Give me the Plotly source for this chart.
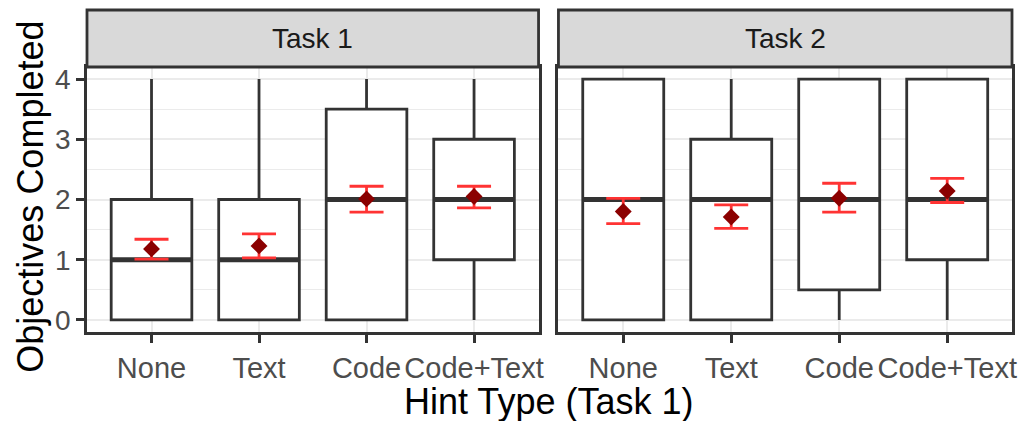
import plotly.graph_objects as go

hints = ["None", "Text", "Code", "Code+Text"]
tasks = ["Task 1", "Task 2"]

# box stats per task: min, q1, median, q3, max
t1_min = [0, 0, 0, 0]
t1_q1 = [0, 0, 0, 1]
t1_med = [1, 1, 2, 2]
t1_q3 = [2, 2, 3.5, 3]
t1_max = [4, 4, 4, 4]

t2_min = [0, 0, 0, 0]
t2_q1 = [0, 0, 0.5, 1]
t2_med = [2, 2, 2, 2]
t2_q3 = [4, 3, 4, 4]
t2_max = [4, 4, 4, 4]

# means with standard error bars
t1_mean = [1.18, 1.23, 2.01, 2.05]
t1_lo = [1.01, 1.03, 1.79, 1.86]
t1_hi = [1.34, 1.43, 2.22, 2.22]

t2_mean = [1.80, 1.71, 2.02, 2.14]
t2_lo = [1.60, 1.52, 1.79, 1.95]
t2_hi = [2.02, 1.91, 2.27, 2.35]

dark = "#333333"
grid = "#EBEBEB"
font = "Liberation Sans"

fig = go.Figure()

panels = [
    (t1_min, t1_q1, t1_med, t1_q3, t1_max, t1_mean, t1_lo, t1_hi),
    (t2_min, t2_q1, t2_med, t2_q3, t2_max, t2_mean, t2_lo, t2_hi),
]

for i, (mn, q1, med, q3, mx, mean, lo, hi) in enumerate(panels):
    xa = "x" if i == 0 else "x2"
    ya = "y" if i == 0 else "y2"
    fig.add_trace(go.Box(
        x=hints, q1=q1, median=med, q3=q3, lowerfence=mn, upperfence=mx,
        width=0.75, whiskerwidth=0, boxpoints=False,
        fillcolor="white", line=dict(color=dark, width=2.8),
        xaxis=xa, yaxis=ya, showlegend=False, hoverinfo="skip",
    ))
    # thicker median line like ggplot (line-ew length is 1.4 * size)
    fig.add_trace(go.Scatter(
        x=hints, y=med, mode="markers",
        marker=dict(symbol="line-ew", size=58, line=dict(color=dark, width=5)),
        xaxis=xa, yaxis=ya, showlegend=False, hoverinfo="skip",
    ))
    fig.add_trace(go.Scatter(
        x=hints, y=mean, mode="markers",
        marker=dict(symbol="diamond", size=13, color="#8B0000"),
        error_y=dict(type="data", symmetric=False,
                     array=[h - m for h, m in zip(hi, mean)],
                     arrayminus=[m - l for m, l in zip(mean, lo)],
                     color="#FF3333", thickness=2.8, width=17),
        xaxis=xa, yaxis=ya, showlegend=False,
    ))

d1 = [0, 454 / 930]
d2 = [474 / 930, 1]

xcommon = dict(
    type="category", categoryorder="array", categoryarray=hints,
    range=[-0.6, 3.6], showgrid=True, gridcolor=grid, gridwidth=2,
    showline=True, linecolor=dark, linewidth=2.8, mirror=True,
    ticks="outside", ticklen=8, tickwidth=3, tickcolor=dark,
    tickfont=dict(family=font, size=29, color="#4D4D4D"), zeroline=False,
)
ycommon = dict(
    range=[-0.2, 4.2], tickvals=[0, 1, 2, 3, 4], showgrid=True,
    gridcolor=grid, gridwidth=2,
    minor=dict(tickvals=[0.5, 1.5, 2.5, 3.5], showgrid=True, gridcolor=grid, gridwidth=1),
    showline=True, linecolor=dark, linewidth=2.8, mirror=True, zeroline=False,
)

fig.update_layout(
    width=1025, height=421,
    margin=dict(l=87, r=8, t=67, b=89),
    plot_bgcolor="white", paper_bgcolor="white",
    xaxis=dict(domain=d1, **xcommon),
    xaxis2=dict(domain=d2, **xcommon),
    yaxis=dict(ticks="outside", ticklen=8, tickwidth=3, tickcolor=dark,
               tickfont=dict(family=font, size=28, color="#4D4D4D"), **ycommon),
    yaxis2=dict(anchor="x2", matches="y", showticklabels=False, ticks="", **ycommon),
)

# facet strips
strip_h = 57 / 265
for i, name in enumerate(tasks):
    xr = "x domain" if i == 0 else "x2 domain"
    fig.add_shape(type="rect", xref=xr, yref="paper", x0=0, x1=1, y0=1, y1=1 + strip_h,
                  fillcolor="#D9D9D9", line=dict(color=dark, width=2.8))
    fig.add_annotation(text=name, xref=xr, yref="paper", x=0.5, y=1 + strip_h / 2,
                       xanchor="center", yanchor="middle", showarrow=False,
                       font=dict(family=font, size=28, color="#1A1A1A"))

fig.add_annotation(text="Hint Type (Task 1)", xref="paper", yref="paper",
                   x=0.499, y=-0.262, xanchor="center", yanchor="middle", showarrow=False,
                   font=dict(family=font, size=36, color="black"))
fig.add_annotation(text="Objectives Completed", xref="paper", yref="paper",
                   x=-0.061, y=0.509, xanchor="center", yanchor="middle",
                   textangle=-90, showarrow=False,
                   font=dict(family=font, size=36, color="black"))

fig.write_html("out.html", config={"displayModeBar": False},
               post_script="document.body.style.margin='0';")
